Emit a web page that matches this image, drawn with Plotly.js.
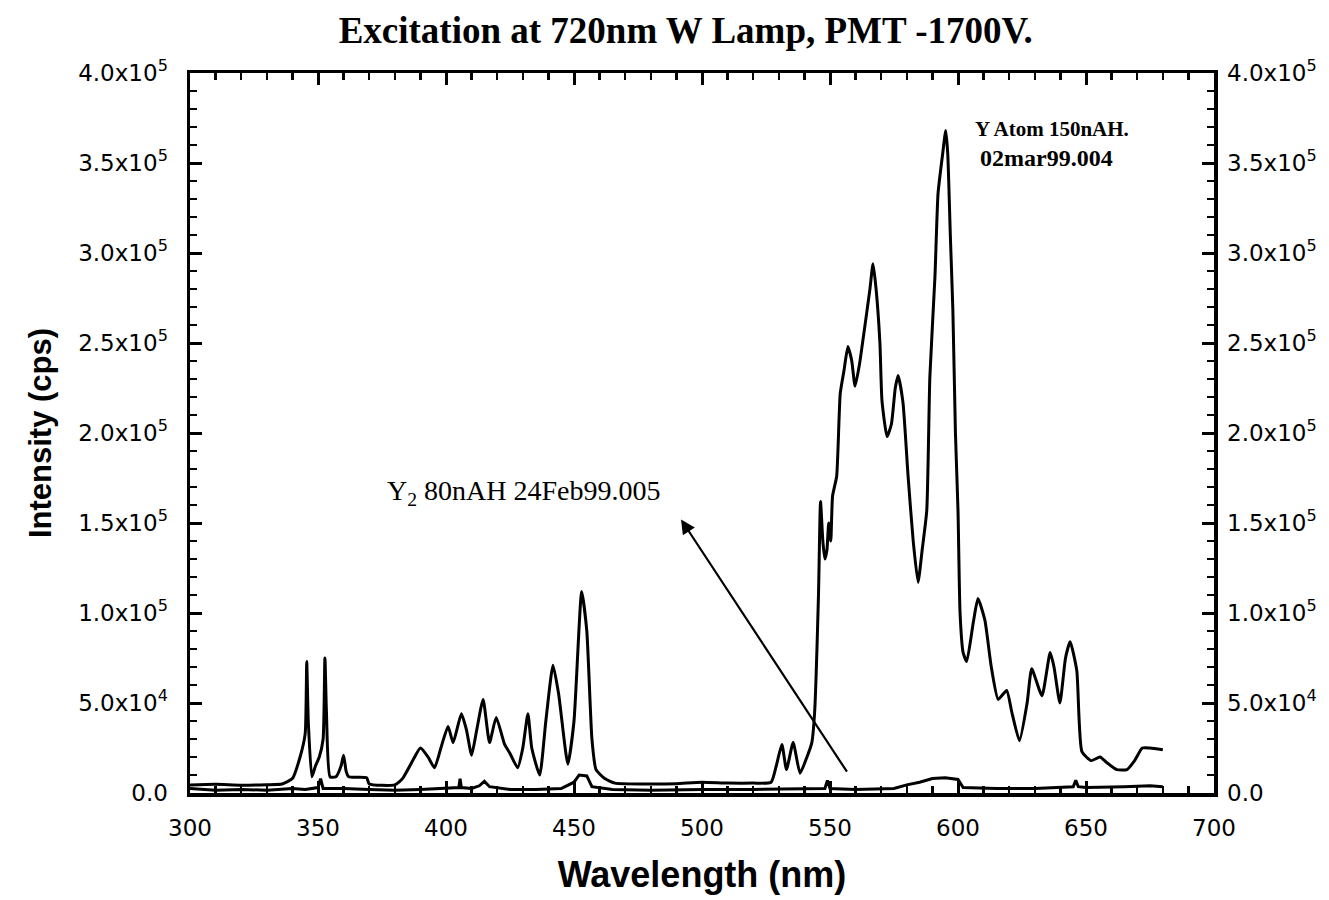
<!DOCTYPE html>
<html>
<head>
<meta charset="utf-8">
<script src="https://cdn.plot.ly/plotly-3.0.1.min.js"></script>
<style>
  html, body { margin: 0; padding: 0; background: #fff; }
  #chart { width: 1329px; height: 900px; }
</style>
</head>
<body>
<div id="chart"></div>
<script>
// Y atom spectrum, 150nAH (02mar99.004)
const atomWavelength = [
  300, 310, 320, 330, 336, 340, 343, 345, 345.6, 346.2, 347.6, 349, 350.5, 352, 352.7, 353.3, 354.7,
  357, 359, 360, 361, 362, 369, 370, 380, 383, 387, 390, 393, 395.5, 398, 400.8, 402.8, 406, 408,
  410, 412, 414.5, 417, 419.6, 422.9, 425, 428, 430, 432, 433.5, 436.6, 439, 441.8, 444, 447.6, 450,
  453, 455, 457, 458.6, 462, 466, 480, 490, 500, 510, 520, 527, 529, 531.2, 533, 535.6, 538.3, 541,
  542.9, 544, 545.5, 546.3, 547.2, 548, 548.8, 549.5, 550.3, 551, 552.6, 554, 555.5, 557, 558.5,
  559.8, 561.5, 563, 565.6, 566.8, 568, 569.5, 570.3, 572.3, 574, 575.5, 576.6, 578.5, 580.5, 582.5,
  584.4, 586, 587.8, 589, 591, 592.2, 594, 595.2, 596, 597, 598, 599, 600, 600.8, 602, 603.4, 606,
  607.8, 610.5, 613, 615.7, 619, 621, 624, 627, 628.8, 632.8, 636, 637.5, 639.8, 642, 643.8, 646.4,
  648.4, 652, 655.5, 658, 662, 666, 669, 672, 675, 680
];
const atomIntensity = [
  4500, 4800, 4300, 4600, 5000, 8000, 20000, 33000, 73000, 40000, 9000, 15000, 20000, 30000, 75000, 45000, 9000,
  9000, 15000, 21000, 12000, 9000, 8500, 5000, 4500, 8000, 18000, 25000, 20000, 14000, 25000, 37000, 28000, 44000, 35000,
  21000, 35000, 52000, 28000, 42000, 27000, 22000, 14000, 25000, 44000, 25000, 10000, 40000, 71000, 55000, 16000, 40000,
  112000, 90000, 30000, 13000, 8000, 5500, 5000, 5200, 6000, 5500, 5500, 6000, 15000, 27000, 13000, 28000, 11000, 20000,
  28000, 45000, 110000, 162000, 140000, 130000, 135000, 150000, 140000, 165000, 176000, 222000, 235000, 248000, 240000,
  226000, 238000, 253000, 280000, 294000, 280000, 250000, 218000, 198000, 205000, 225000, 232000, 217000, 176000, 140000,
  117000, 135000, 157000, 231000, 287000, 333000, 355000, 368000, 355000, 310000, 268000, 200000, 157000, 100000, 78000, 73000, 95000,
  108000, 96000, 70000, 52000, 57000, 45000, 29000, 50000, 69000, 54000, 78000, 70000, 50000, 75000, 84000, 68000,
  23000, 18000, 20000, 17000, 13000, 13000, 18000, 25000, 25000, 24000
];

// Y2 spectrum, 80nAH (24Feb99.005)
const dimerWavelength = [
  300, 310, 320, 330, 340, 345, 350, 351, 352, 360, 370, 380, 390, 400, 405, 405.5, 406, 410, 413, 415,
  417, 425, 435, 445, 450, 452, 455, 457, 465, 480, 500, 520, 540, 548, 549, 550, 560, 575, 580, 585,
  590, 595, 600, 602, 615, 630, 645, 646, 647, 650, 665, 675, 680
];
const dimerIntensity = [
  2500, 1500, 2000, 1500, 2500, 2000, 3000, 8000, 2500, 2500, 2000, 1500, 2000, 2500, 3000, 8000, 3000, 2500, 4000, 6500,
  3500, 2000, 2000, 2500, 6000, 10000, 9500, 3500, 2000, 1500, 2000, 2000, 2500, 2500, 7000, 2500, 2000, 2500, 4500, 6000,
  8000, 8500, 7500, 3000, 2500, 2500, 3500, 7000, 3500, 3000, 3500, 4000, 3500
];

// Intensity axis ticks
const intensityTicks = [0, 50000, 100000, 150000, 200000, 250000, 300000, 350000, 400000];
const intensityTickText = [
  '0.0', '5.0x10<sup>4</sup>', '1.0x10<sup>5</sup>', '1.5x10<sup>5</sup>', '2.0x10<sup>5</sup>',
  '2.5x10<sup>5</sup>', '3.0x10<sup>5</sup>', '3.5x10<sup>5</sup>', '4.0x10<sup>5</sup>'
];

const tickFont = { family: 'DejaVu Sans, Arial, sans-serif', size: 23, color: '#000' };
const serif = 'Liberation Serif, Times New Roman, serif';

const traces = [
  {
    x: atomWavelength, y: atomIntensity, type: 'scatter', mode: 'lines',
    line: { color: '#000', width: 3, shape: 'spline', smoothing: 0.5 },
    hoverinfo: 'x+y', showlegend: false
  },
  {
    x: dimerWavelength, y: dimerIntensity, type: 'scatter', mode: 'lines', yaxis: 'y2',
    line: { color: '#000', width: 3 }, hoverinfo: 'x+y', showlegend: false
  }
];

const layout = {
  width: 1329, height: 900,
  paper_bgcolor: '#fff', plot_bgcolor: '#fff',
  margin: { l: 190, r: 115, t: 73, b: 107 },
  showlegend: false,
  title: {
    text: '<b>Excitation at 720nm W Lamp, PMT -1700V.</b>',
    font: { family: serif, size: 37, color: '#000' },
    x: 0.516, xanchor: 'center', y: 0.967, yanchor: 'middle'
  },
  xaxis: {
    range: [300, 700], dtick: 50, tick0: 300,
    ticks: 'inside', ticklen: 12, tickwidth: 3, tickcolor: '#000',
    minor: { dtick: 10, ticks: 'inside', ticklen: 7, tickwidth: 2.5, tickcolor: '#000' },
    showline: true, linewidth: 3.5, linecolor: '#000', mirror: 'ticks',
    showgrid: false, zeroline: false,
    tickfont: tickFont, ticklabelstandoff: 12,
    title: {
      text: '<b>Wavelength (nm)</b>',
      font: { family: 'Liberation Sans, Arial, sans-serif', size: 36, color: '#000' },
      standoff: 22
    }
  },
  yaxis: {
    range: [0, 400000], tickvals: intensityTicks, ticktext: intensityTickText,
    ticks: 'inside', ticklen: 12, tickwidth: 3, tickcolor: '#000',
    minor: { dtick: 10000, ticks: 'inside', ticklen: 7, tickwidth: 2.5, tickcolor: '#000' },
    showline: true, linewidth: 3.5, linecolor: '#000', mirror: 'ticks',
    showgrid: false, zeroline: false,
    tickfont: tickFont, ticklabelstandoff: 14,
    title: {
      text: '<b>Intensity (cps)</b>',
      font: { family: 'Liberation Sans, Arial, sans-serif', size: 31, color: '#000' },
      standoff: 18
    }
  },
  yaxis2: {
    overlaying: 'y', side: 'right',
    range: [0, 400000], tickvals: intensityTicks, ticktext: intensityTickText,
    ticks: '', showline: false, showgrid: false, zeroline: false,
    tickfont: tickFont, ticklabelstandoff: 12
  },
  annotations: [
    {
      xref: 'x', yref: 'y', x: 605.9, y: 369000, xanchor: 'left', yanchor: 'middle',
      text: '<b>Y Atom 150nAH.</b>', showarrow: false,
      font: { family: serif, size: 21, color: '#000' }
    },
    {
      xref: 'x', yref: 'y', x: 607.8, y: 353000, xanchor: 'left', yanchor: 'middle',
      text: '<b>02mar99.004</b>', showarrow: false,
      font: { family: serif, size: 24, color: '#000' }
    },
    {
      xref: 'x', yref: 'y', x: 376.2, y: 167000, xanchor: 'left', yanchor: 'middle',
      text: 'Y<sub>2</sub> 80nAH 24Feb99.005', showarrow: false,
      font: { family: serif, size: 28, color: '#000' }
    },
    {
      xref: 'x', yref: 'y', axref: 'x', ayref: 'y',
      x: 491.8, y: 152000, ax: 557, ay: 11000,
      text: '', showarrow: true, arrowhead: 2, arrowsize: 1.3, arrowwidth: 2.2, arrowcolor: '#000'
    }
  ]
};

Plotly.newPlot('chart', traces, layout, { staticPlot: true, displayModeBar: false });
</script>
</body>
</html>
